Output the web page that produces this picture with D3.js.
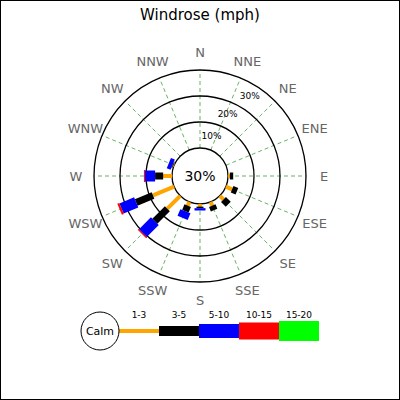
<!DOCTYPE html>
<html><head><meta charset="utf-8">
<script src="https://cdn.jsdelivr.net/npm/d3@7"></script>
<style>body{margin:0}svg{font-family:"DejaVu Sans",sans-serif}</style>
</head><body>
<svg id="chart" width="400" height="400"></svg>
<script>
// directions, clockwise from north
const directions = ['N','NNE','NE','ENE','E','ESE','SE','SSE','S','SSW','SW','WSW','W','WNW','NW','NNW'];
const speedClasses = ['1-3','3-5','5-10','10-15','15-20'];
const classColors = ['orange','black','blue','red','#00ff00'];
// percent per speed class, per direction
const s1_3   = [0,0,0,0,0.7,2.6,2.0,1.6,1.0,1.6,7.0,8.8,3.4,0.3,0,0];
const s3_5   = [0,0,0,0,1.3,2.0,2.6,1.8,0.6,2.3,6.8,7.0,3.1,0.3,0,0];
const s5_10  = [0,0,0,0,0,0,0,0,0.9,2.8,6.5,6.1,3.9,1.6,0,0];
const s10_15 = [0,0,0,0,0,0,0,0,0,0,0.5,0.8,0.4,0,0,0];
const s15_20 = [0,0,0,0,0,0,0,0,0,0,0,0,0,0,0,0];
const rings = [10,20,30];
const calmText = '30%';

const svg = d3.select('#chart');
svg.append('rect').attr('x',0.5).attr('y',0.5).attr('width',399).attr('height',399)
  .attr('fill','white').attr('stroke','black');
svg.append('text').attr('x',200).attr('y',20).attr('text-anchor','middle')
  .attr('font-size',15).text('Windrose (mph)');

const cx = 200, cy = 176;
const r = d3.scaleLinear().domain([0,30]).range([28,106]);
const angle = d3.scaleBand().domain(directions).range([0,360]);
const g = svg.append('g').attr('transform',`translate(${cx},${cy})`);
const pt = (deg, rad) => [rad*Math.sin(deg*Math.PI/180), -rad*Math.cos(deg*Math.PI/180)];

// spokes
directions.forEach(d => {
  const a = angle(d), p0 = pt(a, r(0)), p1 = pt(a, r(30));
  g.append('line').attr('x1',p0[0]).attr('y1',p0[1]).attr('x2',p1[0]).attr('y2',p1[1])
    .attr('stroke','green').attr('stroke-width',0.6).attr('stroke-dasharray','4,3');
  const pl = pt(a, 124);
  g.append('text').attr('x',pl[0]).attr('y',pl[1]).attr('dy','0.35em').attr('text-anchor','middle')
    .attr('font-size',13).attr('fill','#666').text(d);
});
// rings
[0, ...rings].forEach(p => g.append('circle').attr('r',r(p)).attr('fill','none')
  .attr('stroke','black').attr('stroke-width',1.3));
rings.forEach((p,i) => {
  const pl = pt(16 + i*8, r(p) - 12);
  g.append('text').attr('x',pl[0]).attr('y',pl[1]).attr('dy','0.35em').attr('text-anchor','middle')
    .attr('font-size',9).text(p + '%');
});
g.append('text').attr('dy','0.35em').attr('text-anchor','middle').attr('font-size',14).text(calmText);

// bars
const series = [s1_3, s3_5, s5_10, s10_15, s15_20];
const widths = [4, 7, 11, 12, 14];
directions.forEach((d, i) => {
  const a = angle(d);
  let cum = 0;
  series.forEach((s, k) => {
    if (!s[i]) return;
    const p0 = pt(a, r(cum)); cum += s[i]; const p1 = pt(a, r(cum));
    g.append('line').attr('x1',p0[0]).attr('y1',p0[1]).attr('x2',p1[0]).attr('y2',p1[1])
      .attr('stroke',classColors[k]).attr('stroke-width',widths[k]);
  });
});

// legend
const lg = svg.append('g');
const lx = d3.scaleBand().domain(speedClasses).range([119,319]);
const lw = [4, 10, 14, 17, 20];
speedClasses.forEach((c, k) => {
  lg.append('rect').attr('x',lx(c)).attr('y',331 - lw[k]/2).attr('width',lx.bandwidth())
    .attr('height',lw[k]).attr('fill',classColors[k]);
  lg.append('text').attr('x',lx(c) + lx.bandwidth()/2).attr('y',318).attr('text-anchor','middle')
    .attr('font-size',9).text(c);
});
lg.append('circle').attr('cx',100).attr('cy',331).attr('r',19).attr('fill','white').attr('stroke','black');
lg.append('text').attr('x',100).attr('y',331).attr('dy','0.35em').attr('text-anchor','middle')
  .attr('font-size',11).text('Calm');
</script>
</body></html>
